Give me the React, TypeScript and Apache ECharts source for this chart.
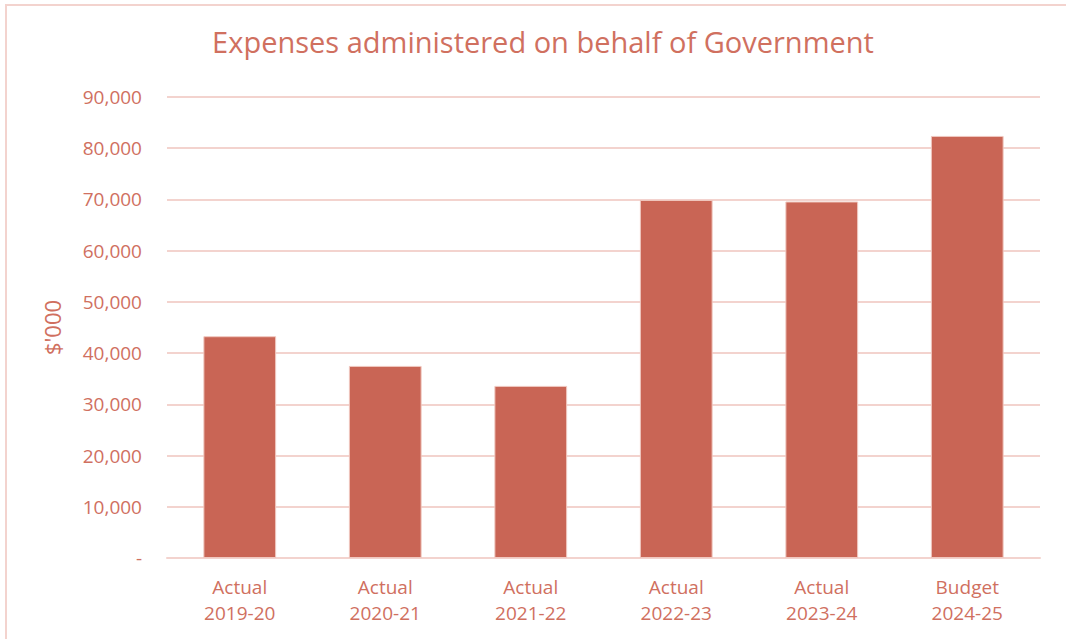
import React, { useEffect, useRef } from "react";
import * as echarts from "echarts";

const categories = ["Actual\n2019-20", "Actual\n2020-21", "Actual\n2021-22", "Actual\n2022-23", "Actual\n2023-24", "Budget\n2024-25"];
const expenses = [43300, 37500, 33600, 69900, 69600, 82400];
const titleText = "Expenses administered on behalf of Government";
const yAxisName = "$'000";

const TEXT = "#D0705F";
const BAR = "#C96555";
const GRID = "#F3D3CE";

export default function App() {
  const ref = useRef<HTMLDivElement>(null);
  useEffect(() => {
    if (!ref.current) return;
    const chart = echarts.init(ref.current, undefined, { renderer: "svg" });
    chart.setOption({
      animation: false,
      backgroundColor: "#ffffff",
      textStyle: { fontFamily: "Open Sans" },
      graphic: [
        {
          type: "rect",
          shape: { x: 6, y: 5, width: 1100, height: 700 },
          style: { fill: "none", stroke: GRID, lineWidth: 2 },
          silent: true,
          z: -10,
        },
      ],
      title: {
        text: titleText,
        left: 538,
        top: 22,
        textAlign: "center",
        textStyle: { color: TEXT, fontSize: 29, fontWeight: "normal", fontFamily: "Open Sans" },
      },
      grid: { left: 167, right: 26, top: 97, bottom: 81, containLabel: false },
      xAxis: {
        type: "category",
        data: categories,
        axisLine: { show: true, lineStyle: { color: GRID, width: 2 } },
        axisTick: { show: false },
        axisLabel: { color: TEXT, fontSize: 19, lineHeight: 26, margin: 16, fontFamily: "Open Sans" },
      },
      yAxis: {
        type: "value",
        min: 0,
        max: 90000,
        interval: 10000,
        name: yAxisName,
        nameLocation: "middle",
        nameGap: 104,
        nameRotate: 90,
        nameTextStyle: { color: TEXT, fontSize: 22, fontFamily: "Open Sans" },
        axisLine: { show: false },
        axisTick: { show: false },
        splitLine: { lineStyle: { color: GRID, width: 2 } },
        axisLabel: {
          color: TEXT,
          fontSize: 19,
          margin: 25,
          fontFamily: "Open Sans",
          formatter: (v: number) => (v === 0 ? "-" : v.toLocaleString("en-US")),
        },
      },
      series: [
        {
          type: "bar",
          data: expenses,
          barWidth: "50%",
          itemStyle: { color: BAR, borderColor: "#F0C8C0", borderWidth: 1 },
        },
      ],
    });
    return () => chart.dispose();
  }, []);
  return <div ref={ref} style={{ position: "fixed", left: 0, top: 0, width: 1066, height: 639 }} />;
}
